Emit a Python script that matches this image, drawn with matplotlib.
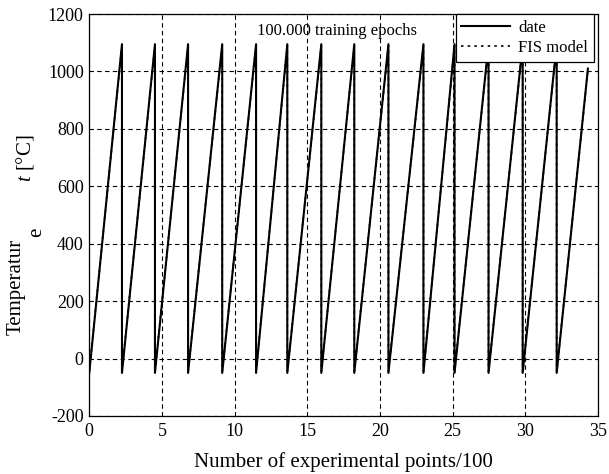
"""Curva de temperatura en diente de sierra: datos medidos frente al modelo FIS."""

import matplotlib

matplotlib.use("Agg")
import matplotlib.pyplot as plt

# ── Datos ────────────────────────────────────────────────────────────────────

PUNTOS_X = [
    0.0, 2.25, 2.25, 4.52, 4.52, 6.80, 6.80, 9.15, 9.15, 11.48, 11.48,
    13.63, 13.63, 15.97, 15.97, 18.24, 18.24, 20.59, 20.59, 23.0, 23.0,
    25.14, 25.14, 27.48, 27.48, 29.83, 29.83, 32.17, 32.17, 34.32,
]
TEMP_DATE = [
    -50, 1095, -50, 1095, -50, 1095, -50, 1095, -50, 1095, -50,
    1095, -50, 1095, -50, 1095, -50, 1095, -50, 1095, -50,
    1095, -50, 1095, -50, 1095, -50, 1095, -50, 1010,
]
TEMP_FIS = [
    -45, 1090, -45, 1090, -45, 1090, -45, 1090, -45, 1090, -45,
    1090, -45, 1090, -45, 1090, -45, 1090, -45, 1090, -45,
    1090, -45, 1090, -45, 1090, -45, 1090, -45, 1005,
]

TICKS_X = [0, 5, 10, 15, 20, 25, 30, 35]
TICKS_Y = [-200, 0, 200, 400, 600, 800, 1000, 1200]

FUENTE = "Liberation Serif"


def main() -> None:
    plt.rcParams["font.family"] = [FUENTE, "DejaVu Serif"]
    plt.rcParams["mathtext.fontset"] = "custom"
    plt.rcParams["mathtext.rm"] = FUENTE
    plt.rcParams["mathtext.it"] = f"{FUENTE}:italic"
    plt.rcParams["axes.unicode_minus"] = False

    figura = plt.figure(figsize=(6.09, 4.74), dpi=100)
    eje = figura.add_axes((0.1466, 0.1224, 0.835, 0.848))

    eje.plot(PUNTOS_X, TEMP_DATE, color="black", linewidth=1.5, label="date")
    eje.plot(PUNTOS_X, TEMP_FIS, color="black", linewidth=1.2,
             linestyle=(0, (1.5, 2.5)), label="FIS model")

    eje.set_xlim(0, 35)
    eje.set_ylim(-200, 1200)
    eje.set_xticks(TICKS_X)
    eje.set_yticks(TICKS_Y)
    eje.tick_params(labelsize=13, length=0)
    eje.tick_params(axis="x", pad=5)
    eje.tick_params(axis="y", pad=4)
    eje.grid(True, color="black", linestyle=(0, (4, 3)), linewidth=0.8)
    for borde in eje.spines.values():
        borde.set_linewidth(0.9)

    eje.set_xlabel("Number of experimental points/100", fontsize=15, labelpad=9)

    # etiqueta del eje Y partida en dos lineas como en el original
    figura.text(16 / 609, 1 - 287 / 474, "Temperatur", rotation=90, fontsize=15,
                ha="center", va="center")
    figura.text(37 / 609, 1 - 232 / 474, "e", rotation=90, fontsize=15,
                ha="center", va="center")
    figura.text(25 / 609, 1 - 158 / 474, r"$t$ [°C]", rotation=90, fontsize=15,
                ha="center", va="center")

    eje.text(11.55, 1140, "100.000 training epochs", fontsize=12, va="center")

    leyenda = eje.legend(
        loc="upper right", bbox_to_anchor=(0.992, 1.0), fontsize=12,
        frameon=True, fancybox=False, framealpha=1, edgecolor="black",
        handlelength=2.9, borderaxespad=0, borderpad=0.35, labelspacing=0.25,
        handletextpad=0.5,
    )
    leyenda.get_frame().set_linewidth(0.9)

    figura.savefig("out.png", dpi=100)
    plt.close(figura)


if __name__ == "__main__":
    main()
